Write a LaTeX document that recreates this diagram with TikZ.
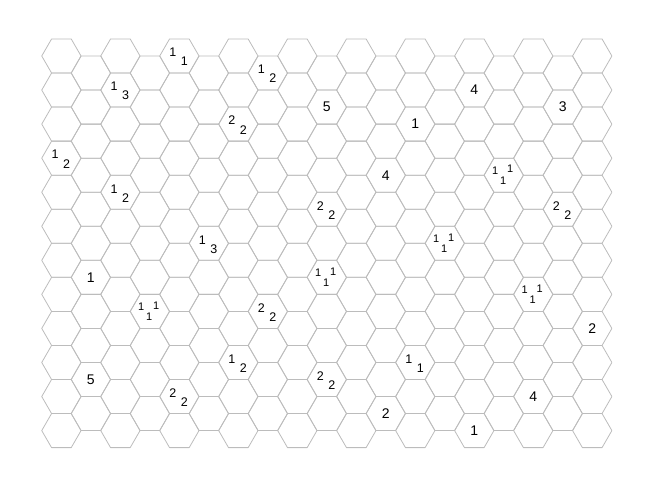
\documentclass[tikz,border=0pt]{standalone}
\usepackage{fontspec}
\setmainfont{Liberation Sans}
\definecolor{gridgray}{RGB}{188,188,188}
\tikzset{
	hexline/.style = {gridgray, line width=0.8pt, line join=round},
	clue/.style = {inner sep=0pt, font=\fontsize{14}{14}\selectfont},
	pairA/.style = {inner sep=0pt, font=\fontsize{12.5}{12.5}\selectfont, xshift=-6.4pt, yshift=3.5pt},
	pairB/.style = {inner sep=0pt, font=\fontsize{12.5}{12.5}\selectfont, xshift=5.1pt, yshift=-5.6pt},
	tripA/.style = {inner sep=0pt, font=\fontsize{11}{11}\selectfont, xshift=-8.6pt, yshift=4.3pt},
	tripB/.style = {inner sep=0pt, font=\fontsize{11}{11}\selectfont, xshift=6.4pt, yshift=6pt},
	tripC/.style = {inner sep=0pt, font=\fontsize{11}{11}\selectfont, xshift=-0.6pt, yshift=-5.3pt}
}
\begin{document}
\begin{tikzpicture}[x=19.66pt, y=19.66pt]
	\useasboundingbox (-61.4pt,56pt) rectangle (591.6pt,-431pt);

	\foreach \c in {0,...,18} {
		\pgfmathtruncatemacro{\odd}{mod(\c,2)}
		\pgfmathtruncatemacro{\last}{11-\odd}
		\foreach \r in {0,...,\last} {
			\coordinate (h-\c-\r) at ({1.5*\c},{-1.7321*\r-0.8660*\odd});
			\draw[hexline] (h-\c-\r) ++(0:1) -- ++(120:1) -- ++(180:1) -- ++(240:1) -- ++(300:1) -- ++(0:1) -- cycle;
		}
	}

	\node[clue] (s1) at (h-14-1) {4};
	\node[clue] (s2) at (h-17-1) {3};
	\node[clue] (s3) at (h-9-1) {5};
	\node[clue] (s4) at (h-12-2) {1};
	\node[clue] (s5) at (h-11-3) {4};
	\node[clue] (s6) at (h-1-6) {1};
	\node[clue] (s7) at (h-18-8) {2};
	\node[clue] (s8) at (h-1-9) {5};
	\node[clue] (s9) at (h-16-10) {4};
	\node[clue] (s10) at (h-11-10) {2};
	\node[clue] (s11) at (h-14-11) {1};

	\node[pairA] (p1a) at (h-4-0) {1};  \node[pairB] (p1b) at (h-4-0) {1};
	\node[pairA] (p2a) at (h-7-0) {1};  \node[pairB] (p2b) at (h-7-0) {2};
	\node[pairA] (p3a) at (h-2-1) {1};  \node[pairB] (p3b) at (h-2-1) {3};
	\node[pairA] (p4a) at (h-6-2) {2};  \node[pairB] (p4b) at (h-6-2) {2};
	\node[pairA] (p5a) at (h-0-3) {1};  \node[pairB] (p5b) at (h-0-3) {2};
	\node[pairA] (p6a) at (h-2-4) {1};  \node[pairB] (p6b) at (h-2-4) {2};
	\node[pairA] (p7a) at (h-9-4) {2};  \node[pairB] (p7b) at (h-9-4) {2};
	\node[pairA] (p8a) at (h-17-4) {2}; \node[pairB] (p8b) at (h-17-4) {2};
	\node[pairA] (p9a) at (h-5-5) {1};  \node[pairB] (p9b) at (h-5-5) {3};
	\node[pairA] (p10a) at (h-7-7) {2}; \node[pairB] (p10b) at (h-7-7) {2};
	\node[pairA] (p11a) at (h-12-9) {1}; \node[pairB] (p11b) at (h-12-9) {1};
	\node[pairA] (p12a) at (h-6-9) {1}; \node[pairB] (p12b) at (h-6-9) {2};
	\node[pairA] (p13a) at (h-9-9) {2}; \node[pairB] (p13b) at (h-9-9) {2};
	\node[pairA] (p14a) at (h-4-10) {2}; \node[pairB] (p14b) at (h-4-10) {2};

	\node[tripA] (t1a) at (h-15-3) {1}; \node[tripB] (t1b) at (h-15-3) {1}; \node[tripC] (t1c) at (h-15-3) {1};
	\node[tripA] (t2a) at (h-13-5) {1}; \node[tripB] (t2b) at (h-13-5) {1}; \node[tripC] (t2c) at (h-13-5) {1};
	\node[tripA] (t3a) at (h-9-6) {1};  \node[tripB] (t3b) at (h-9-6) {1};  \node[tripC] (t3c) at (h-9-6) {1};
	\node[tripA] (t4a) at (h-16-7) {1}; \node[tripB] (t4b) at (h-16-7) {1}; \node[tripC] (t4c) at (h-16-7) {1};
	\node[tripA] (t5a) at (h-3-7) {1};  \node[tripB] (t5b) at (h-3-7) {1};  \node[tripC] (t5c) at (h-3-7) {1};
\end{tikzpicture}
\end{document}
